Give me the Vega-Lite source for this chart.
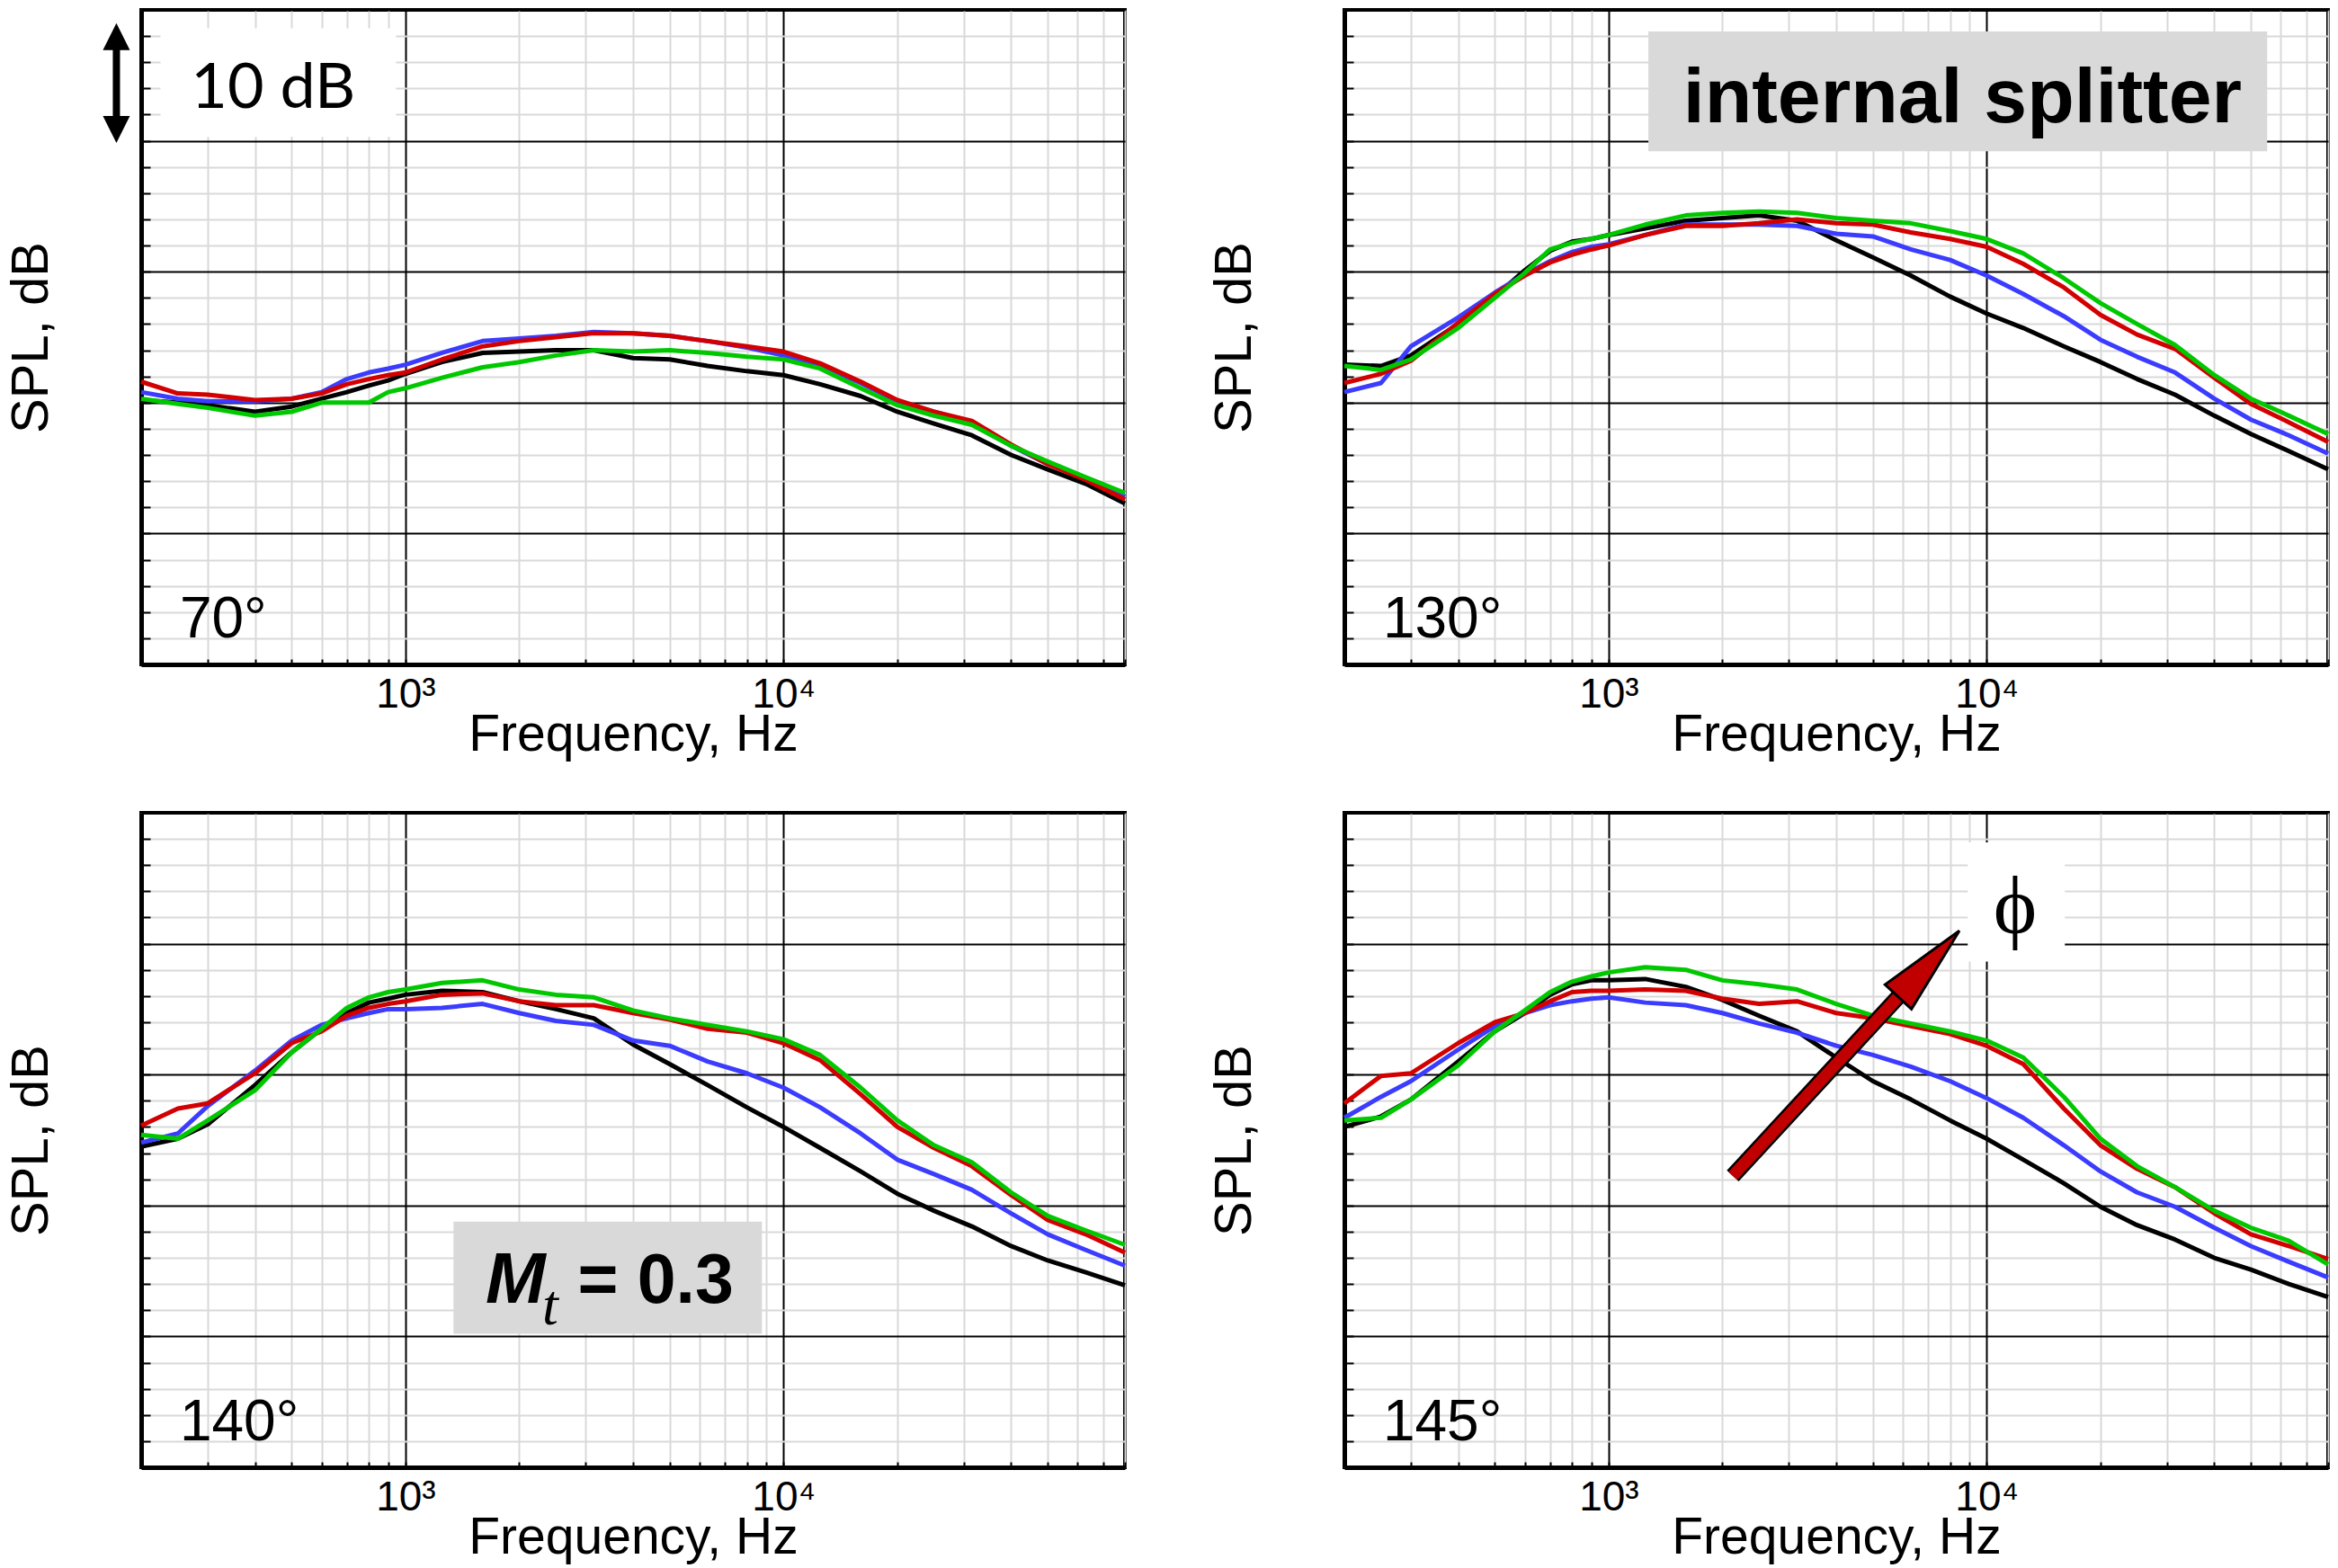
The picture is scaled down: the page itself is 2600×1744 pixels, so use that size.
{
  "$schema": "https://vega.github.io/schema/vega-lite/v6.json",
  "padding": {"left": 4, "top": 8, "right": 0, "bottom": 0},
  "columns": 2,
  "spacing": {"row": 54, "column": 86},
  "datasets": {
    "p70": [
      {"series":"phi1","freq":200,"spl":20.2},{"series":"phi1","freq":250,"spl":20.0},{"series":"phi1","freq":300,"spl":19.8},{"series":"phi1","freq":400,"spl":19.3},{"series":"phi1","freq":500,"spl":19.7},{"series":"phi1","freq":600,"spl":20.3},{"series":"phi1","freq":700,"spl":20.8},{"series":"phi1","freq":800,"spl":21.3},{"series":"phi1","freq":900,"spl":21.7},{"series":"phi1","freq":1000,"spl":22.2},{"series":"phi1","freq":1250,"spl":23.1},{"series":"phi1","freq":1600,"spl":23.8},{"series":"phi1","freq":2000,"spl":23.9},{"series":"phi1","freq":2500,"spl":24.0},{"series":"phi1","freq":3150,"spl":24.0},{"series":"phi1","freq":4000,"spl":23.4},{"series":"phi1","freq":5000,"spl":23.3},{"series":"phi1","freq":6300,"spl":22.8},{"series":"phi1","freq":8000,"spl":22.4},{"series":"phi1","freq":10000,"spl":22.1},{"series":"phi1","freq":12500,"spl":21.4},{"series":"phi1","freq":16000,"spl":20.5},{"series":"phi1","freq":20000,"spl":19.3},{"series":"phi1","freq":25000,"spl":18.4},{"series":"phi1","freq":31500,"spl":17.5},{"series":"phi1","freq":40000,"spl":16.0},{"series":"phi1","freq":50000,"spl":14.9},{"series":"phi1","freq":63000,"spl":13.8},{"series":"phi1","freq":80000,"spl":12.3},
      {"series":"phi2","freq":200,"spl":20.8},{"series":"phi2","freq":250,"spl":20.3},{"series":"phi2","freq":300,"spl":20.1},{"series":"phi2","freq":400,"spl":20.1},{"series":"phi2","freq":500,"spl":20.3},{"series":"phi2","freq":600,"spl":20.8},{"series":"phi2","freq":700,"spl":21.8},{"series":"phi2","freq":800,"spl":22.3},{"series":"phi2","freq":900,"spl":22.6},{"series":"phi2","freq":1000,"spl":22.9},{"series":"phi2","freq":1250,"spl":23.8},{"series":"phi2","freq":1600,"spl":24.7},{"series":"phi2","freq":2000,"spl":24.9},{"series":"phi2","freq":2500,"spl":25.1},{"series":"phi2","freq":3150,"spl":25.4},{"series":"phi2","freq":4000,"spl":25.3},{"series":"phi2","freq":5000,"spl":25.1},{"series":"phi2","freq":6300,"spl":24.7},{"series":"phi2","freq":8000,"spl":24.2},{"series":"phi2","freq":10000,"spl":23.6},{"series":"phi2","freq":12500,"spl":22.8},{"series":"phi2","freq":16000,"spl":21.5},{"series":"phi2","freq":20000,"spl":20.1},{"series":"phi2","freq":25000,"spl":19.3},{"series":"phi2","freq":31500,"spl":18.5},{"series":"phi2","freq":40000,"spl":16.7},{"series":"phi2","freq":50000,"spl":15.3},{"series":"phi2","freq":63000,"spl":14.2},{"series":"phi2","freq":80000,"spl":12.8},
      {"series":"phi3","freq":200,"spl":21.6},{"series":"phi3","freq":250,"spl":20.7},{"series":"phi3","freq":300,"spl":20.6},{"series":"phi3","freq":400,"spl":20.2},{"series":"phi3","freq":500,"spl":20.3},{"series":"phi3","freq":600,"spl":20.7},{"series":"phi3","freq":700,"spl":21.4},{"series":"phi3","freq":800,"spl":21.8},{"series":"phi3","freq":900,"spl":22.1},{"series":"phi3","freq":1000,"spl":22.3},{"series":"phi3","freq":1250,"spl":23.3},{"series":"phi3","freq":1600,"spl":24.3},{"series":"phi3","freq":2000,"spl":24.7},{"series":"phi3","freq":2500,"spl":25.0},{"series":"phi3","freq":3150,"spl":25.3},{"series":"phi3","freq":4000,"spl":25.3},{"series":"phi3","freq":5000,"spl":25.1},{"series":"phi3","freq":6300,"spl":24.7},{"series":"phi3","freq":8000,"spl":24.3},{"series":"phi3","freq":10000,"spl":23.9},{"series":"phi3","freq":12500,"spl":23.0},{"series":"phi3","freq":16000,"spl":21.6},{"series":"phi3","freq":20000,"spl":20.2},{"series":"phi3","freq":25000,"spl":19.3},{"series":"phi3","freq":31500,"spl":18.6},{"series":"phi3","freq":40000,"spl":16.8},{"series":"phi3","freq":50000,"spl":15.3},{"series":"phi3","freq":63000,"spl":14.1},{"series":"phi3","freq":80000,"spl":12.6},
      {"series":"phi4","freq":200,"spl":20.3},{"series":"phi4","freq":250,"spl":19.9},{"series":"phi4","freq":300,"spl":19.6},{"series":"phi4","freq":400,"spl":19.0},{"series":"phi4","freq":500,"spl":19.3},{"series":"phi4","freq":600,"spl":20.0},{"series":"phi4","freq":700,"spl":20.0},{"series":"phi4","freq":800,"spl":20.0},{"series":"phi4","freq":900,"spl":20.8},{"series":"phi4","freq":1000,"spl":21.1},{"series":"phi4","freq":1250,"spl":21.9},{"series":"phi4","freq":1600,"spl":22.7},{"series":"phi4","freq":2000,"spl":23.1},{"series":"phi4","freq":2500,"spl":23.6},{"series":"phi4","freq":3150,"spl":24.0},{"series":"phi4","freq":4000,"spl":23.9},{"series":"phi4","freq":5000,"spl":24.0},{"series":"phi4","freq":6300,"spl":23.8},{"series":"phi4","freq":8000,"spl":23.5},{"series":"phi4","freq":10000,"spl":23.3},{"series":"phi4","freq":12500,"spl":22.6},{"series":"phi4","freq":16000,"spl":21.1},{"series":"phi4","freq":20000,"spl":19.8},{"series":"phi4","freq":25000,"spl":19.0},{"series":"phi4","freq":31500,"spl":18.3},{"series":"phi4","freq":40000,"spl":16.7},{"series":"phi4","freq":50000,"spl":15.5},{"series":"phi4","freq":63000,"spl":14.3},{"series":"phi4","freq":80000,"spl":13.1}
    ],
    "p130": [
      {"series":"phi1","freq":200,"spl":22.9},{"series":"phi1","freq":250,"spl":22.8},{"series":"phi1","freq":300,"spl":23.6},{"series":"phi1","freq":400,"spl":26.0},{"series":"phi1","freq":500,"spl":28.1},{"series":"phi1","freq":600,"spl":30.1},{"series":"phi1","freq":700,"spl":31.6},{"series":"phi1","freq":800,"spl":32.3},{"series":"phi1","freq":900,"spl":32.5},{"series":"phi1","freq":1000,"spl":32.8},{"series":"phi1","freq":1250,"spl":33.3},{"series":"phi1","freq":1600,"spl":33.9},{"series":"phi1","freq":2000,"spl":34.1},{"series":"phi1","freq":2500,"spl":34.3},{"series":"phi1","freq":3150,"spl":33.9},{"series":"phi1","freq":4000,"spl":32.4},{"series":"phi1","freq":5000,"spl":31.1},{"series":"phi1","freq":6300,"spl":29.7},{"series":"phi1","freq":8000,"spl":28.1},{"series":"phi1","freq":10000,"spl":26.8},{"series":"phi1","freq":12500,"spl":25.7},{"series":"phi1","freq":16000,"spl":24.3},{"series":"phi1","freq":20000,"spl":23.1},{"series":"phi1","freq":25000,"spl":21.8},{"series":"phi1","freq":31500,"spl":20.6},{"series":"phi1","freq":40000,"spl":19.0},{"series":"phi1","freq":50000,"spl":17.6},{"series":"phi1","freq":63000,"spl":16.3},{"series":"phi1","freq":80000,"spl":14.9},
      {"series":"phi2","freq":200,"spl":20.8},{"series":"phi2","freq":250,"spl":21.5},{"series":"phi2","freq":300,"spl":24.3},{"series":"phi2","freq":400,"spl":26.5},{"series":"phi2","freq":500,"spl":28.4},{"series":"phi2","freq":600,"spl":29.8},{"series":"phi2","freq":700,"spl":30.8},{"series":"phi2","freq":800,"spl":31.5},{"series":"phi2","freq":900,"spl":31.9},{"series":"phi2","freq":1000,"spl":32.1},{"series":"phi2","freq":1250,"spl":32.8},{"series":"phi2","freq":1600,"spl":33.6},{"series":"phi2","freq":2000,"spl":33.6},{"series":"phi2","freq":2500,"spl":33.6},{"series":"phi2","freq":3150,"spl":33.5},{"series":"phi2","freq":4000,"spl":32.9},{"series":"phi2","freq":5000,"spl":32.7},{"series":"phi2","freq":6300,"spl":31.7},{"series":"phi2","freq":8000,"spl":30.9},{"series":"phi2","freq":10000,"spl":29.7},{"series":"phi2","freq":12500,"spl":28.3},{"series":"phi2","freq":16000,"spl":26.6},{"series":"phi2","freq":20000,"spl":24.8},{"series":"phi2","freq":25000,"spl":23.5},{"series":"phi2","freq":31500,"spl":22.3},{"series":"phi2","freq":40000,"spl":20.3},{"series":"phi2","freq":50000,"spl":18.7},{"series":"phi2","freq":63000,"spl":17.5},{"series":"phi2","freq":80000,"spl":16.1},
      {"series":"phi3","freq":200,"spl":21.5},{"series":"phi3","freq":250,"spl":22.2},{"series":"phi3","freq":300,"spl":23.2},{"series":"phi3","freq":400,"spl":26.1},{"series":"phi3","freq":500,"spl":28.3},{"series":"phi3","freq":600,"spl":29.7},{"series":"phi3","freq":700,"spl":30.7},{"series":"phi3","freq":800,"spl":31.3},{"series":"phi3","freq":900,"spl":31.7},{"series":"phi3","freq":1000,"spl":32.0},{"series":"phi3","freq":1250,"spl":32.8},{"series":"phi3","freq":1600,"spl":33.5},{"series":"phi3","freq":2000,"spl":33.5},{"series":"phi3","freq":2500,"spl":33.7},{"series":"phi3","freq":3150,"spl":34.0},{"series":"phi3","freq":4000,"spl":33.7},{"series":"phi3","freq":5000,"spl":33.6},{"series":"phi3","freq":6300,"spl":33.0},{"series":"phi3","freq":8000,"spl":32.5},{"series":"phi3","freq":10000,"spl":31.9},{"series":"phi3","freq":12500,"spl":30.6},{"series":"phi3","freq":16000,"spl":28.8},{"series":"phi3","freq":20000,"spl":26.7},{"series":"phi3","freq":25000,"spl":25.2},{"series":"phi3","freq":31500,"spl":24.1},{"series":"phi3","freq":40000,"spl":21.9},{"series":"phi3","freq":50000,"spl":19.9},{"series":"phi3","freq":63000,"spl":18.5},{"series":"phi3","freq":80000,"spl":17.0},
      {"series":"phi4","freq":200,"spl":22.8},{"series":"phi4","freq":250,"spl":22.5},{"series":"phi4","freq":300,"spl":23.3},{"series":"phi4","freq":400,"spl":25.7},{"series":"phi4","freq":500,"spl":28.0},{"series":"phi4","freq":600,"spl":29.9},{"series":"phi4","freq":700,"spl":31.7},{"series":"phi4","freq":800,"spl":32.2},{"series":"phi4","freq":900,"spl":32.5},{"series":"phi4","freq":1000,"spl":32.8},{"series":"phi4","freq":1250,"spl":33.6},{"series":"phi4","freq":1600,"spl":34.3},{"series":"phi4","freq":2000,"spl":34.5},{"series":"phi4","freq":2500,"spl":34.6},{"series":"phi4","freq":3150,"spl":34.5},{"series":"phi4","freq":4000,"spl":34.1},{"series":"phi4","freq":5000,"spl":33.9},{"series":"phi4","freq":6300,"spl":33.7},{"series":"phi4","freq":8000,"spl":33.1},{"series":"phi4","freq":10000,"spl":32.5},{"series":"phi4","freq":12500,"spl":31.4},{"series":"phi4","freq":16000,"spl":29.5},{"series":"phi4","freq":20000,"spl":27.6},{"series":"phi4","freq":25000,"spl":26.0},{"series":"phi4","freq":31500,"spl":24.4},{"series":"phi4","freq":40000,"spl":22.1},{"series":"phi4","freq":50000,"spl":20.3},{"series":"phi4","freq":63000,"spl":19.0},{"series":"phi4","freq":80000,"spl":17.6}
    ],
    "p140": [
      {"series":"phi1","freq":200,"spl":24.5},{"series":"phi1","freq":250,"spl":25.1},{"series":"phi1","freq":300,"spl":26.2},{"series":"phi1","freq":400,"spl":29.2},{"series":"phi1","freq":500,"spl":31.7},{"series":"phi1","freq":600,"spl":33.5},{"series":"phi1","freq":700,"spl":34.7},{"series":"phi1","freq":800,"spl":35.5},{"series":"phi1","freq":900,"spl":35.8},{"series":"phi1","freq":1000,"spl":36.1},{"series":"phi1","freq":1250,"spl":36.4},{"series":"phi1","freq":1600,"spl":36.3},{"series":"phi1","freq":2000,"spl":35.6},{"series":"phi1","freq":2500,"spl":35.0},{"series":"phi1","freq":3150,"spl":34.3},{"series":"phi1","freq":4000,"spl":32.3},{"series":"phi1","freq":5000,"spl":30.8},{"series":"phi1","freq":6300,"spl":29.2},{"series":"phi1","freq":8000,"spl":27.5},{"series":"phi1","freq":10000,"spl":26.0},{"series":"phi1","freq":12500,"spl":24.4},{"series":"phi1","freq":16000,"spl":22.6},{"series":"phi1","freq":20000,"spl":20.9},{"series":"phi1","freq":25000,"spl":19.6},{"series":"phi1","freq":31500,"spl":18.4},{"series":"phi1","freq":40000,"spl":16.9},{"series":"phi1","freq":50000,"spl":15.8},{"series":"phi1","freq":63000,"spl":14.9},{"series":"phi1","freq":80000,"spl":13.9},
      {"series":"phi2","freq":200,"spl":24.8},{"series":"phi2","freq":250,"spl":25.5},{"series":"phi2","freq":300,"spl":27.6},{"series":"phi2","freq":400,"spl":30.3},{"series":"phi2","freq":500,"spl":32.6},{"series":"phi2","freq":600,"spl":33.8},{"series":"phi2","freq":700,"spl":34.3},{"series":"phi2","freq":800,"spl":34.7},{"series":"phi2","freq":900,"spl":35.0},{"series":"phi2","freq":1000,"spl":35.0},{"series":"phi2","freq":1250,"spl":35.1},{"series":"phi2","freq":1600,"spl":35.4},{"series":"phi2","freq":2000,"spl":34.7},{"series":"phi2","freq":2500,"spl":34.1},{"series":"phi2","freq":3150,"spl":33.8},{"series":"phi2","freq":4000,"spl":32.6},{"series":"phi2","freq":5000,"spl":32.2},{"series":"phi2","freq":6300,"spl":31.0},{"series":"phi2","freq":8000,"spl":30.1},{"series":"phi2","freq":10000,"spl":29.0},{"series":"phi2","freq":12500,"spl":27.5},{"series":"phi2","freq":16000,"spl":25.5},{"series":"phi2","freq":20000,"spl":23.5},{"series":"phi2","freq":25000,"spl":22.4},{"series":"phi2","freq":31500,"spl":21.2},{"series":"phi2","freq":40000,"spl":19.4},{"series":"phi2","freq":50000,"spl":17.8},{"series":"phi2","freq":63000,"spl":16.6},{"series":"phi2","freq":80000,"spl":15.4},
      {"series":"phi3","freq":200,"spl":26.1},{"series":"phi3","freq":250,"spl":27.4},{"series":"phi3","freq":300,"spl":27.8},{"series":"phi3","freq":400,"spl":30.1},{"series":"phi3","freq":500,"spl":32.4},{"series":"phi3","freq":600,"spl":33.3},{"series":"phi3","freq":700,"spl":34.5},{"series":"phi3","freq":800,"spl":35.1},{"series":"phi3","freq":900,"spl":35.4},{"series":"phi3","freq":1000,"spl":35.6},{"series":"phi3","freq":1250,"spl":36.1},{"series":"phi3","freq":1600,"spl":36.2},{"series":"phi3","freq":2000,"spl":35.6},{"series":"phi3","freq":2500,"spl":35.3},{"series":"phi3","freq":3150,"spl":35.3},{"series":"phi3","freq":4000,"spl":34.7},{"series":"phi3","freq":5000,"spl":34.2},{"series":"phi3","freq":6300,"spl":33.5},{"series":"phi3","freq":8000,"spl":33.2},{"series":"phi3","freq":10000,"spl":32.4},{"series":"phi3","freq":12500,"spl":31.1},{"series":"phi3","freq":16000,"spl":28.5},{"series":"phi3","freq":20000,"spl":26.0},{"series":"phi3","freq":25000,"spl":24.4},{"series":"phi3","freq":31500,"spl":23.0},{"series":"phi3","freq":40000,"spl":20.8},{"series":"phi3","freq":50000,"spl":18.9},{"series":"phi3","freq":63000,"spl":17.8},{"series":"phi3","freq":80000,"spl":16.4},
      {"series":"phi4","freq":200,"spl":25.4},{"series":"phi4","freq":250,"spl":25.1},{"series":"phi4","freq":300,"spl":26.5},{"series":"phi4","freq":400,"spl":28.8},{"series":"phi4","freq":500,"spl":31.7},{"series":"phi4","freq":600,"spl":33.5},{"series":"phi4","freq":700,"spl":35.1},{"series":"phi4","freq":800,"spl":35.9},{"series":"phi4","freq":900,"spl":36.3},{"series":"phi4","freq":1000,"spl":36.5},{"series":"phi4","freq":1250,"spl":37.0},{"series":"phi4","freq":1600,"spl":37.2},{"series":"phi4","freq":2000,"spl":36.5},{"series":"phi4","freq":2500,"spl":36.1},{"series":"phi4","freq":3150,"spl":35.9},{"series":"phi4","freq":4000,"spl":34.9},{"series":"phi4","freq":5000,"spl":34.3},{"series":"phi4","freq":6300,"spl":33.8},{"series":"phi4","freq":8000,"spl":33.3},{"series":"phi4","freq":10000,"spl":32.7},{"series":"phi4","freq":12500,"spl":31.5},{"series":"phi4","freq":16000,"spl":29.0},{"series":"phi4","freq":20000,"spl":26.5},{"series":"phi4","freq":25000,"spl":24.6},{"series":"phi4","freq":31500,"spl":23.3},{"series":"phi4","freq":40000,"spl":21.0},{"series":"phi4","freq":50000,"spl":19.2},{"series":"phi4","freq":63000,"spl":18.1},{"series":"phi4","freq":80000,"spl":17.0}
    ],
    "p145": [
      {"series":"phi1","freq":200,"spl":26.0},{"series":"phi1","freq":250,"spl":26.8},{"series":"phi1","freq":300,"spl":28.1},{"series":"phi1","freq":400,"spl":31.0},{"series":"phi1","freq":500,"spl":33.3},{"series":"phi1","freq":600,"spl":34.7},{"series":"phi1","freq":700,"spl":36.1},{"series":"phi1","freq":800,"spl":36.9},{"series":"phi1","freq":900,"spl":37.2},{"series":"phi1","freq":1000,"spl":37.2},{"series":"phi1","freq":1250,"spl":37.3},{"series":"phi1","freq":1600,"spl":36.7},{"series":"phi1","freq":2000,"spl":35.7},{"series":"phi1","freq":2500,"spl":34.5},{"series":"phi1","freq":3150,"spl":33.3},{"series":"phi1","freq":4000,"spl":31.3},{"series":"phi1","freq":5000,"spl":29.5},{"series":"phi1","freq":6300,"spl":28.1},{"series":"phi1","freq":8000,"spl":26.5},{"series":"phi1","freq":10000,"spl":25.1},{"series":"phi1","freq":12500,"spl":23.5},{"series":"phi1","freq":16000,"spl":21.7},{"series":"phi1","freq":20000,"spl":19.9},{"series":"phi1","freq":25000,"spl":18.5},{"series":"phi1","freq":31500,"spl":17.4},{"series":"phi1","freq":40000,"spl":16.0},{"series":"phi1","freq":50000,"spl":15.1},{"series":"phi1","freq":63000,"spl":14.0},{"series":"phi1","freq":80000,"spl":13.0},
      {"series":"phi2","freq":200,"spl":26.7},{"series":"phi2","freq":250,"spl":28.3},{"series":"phi2","freq":300,"spl":29.5},{"series":"phi2","freq":400,"spl":31.9},{"series":"phi2","freq":500,"spl":33.7},{"series":"phi2","freq":600,"spl":34.7},{"series":"phi2","freq":700,"spl":35.3},{"series":"phi2","freq":800,"spl":35.6},{"series":"phi2","freq":900,"spl":35.8},{"series":"phi2","freq":1000,"spl":35.9},{"series":"phi2","freq":1250,"spl":35.5},{"series":"phi2","freq":1600,"spl":35.3},{"series":"phi2","freq":2000,"spl":34.7},{"series":"phi2","freq":2500,"spl":33.9},{"series":"phi2","freq":3150,"spl":33.2},{"series":"phi2","freq":4000,"spl":32.2},{"series":"phi2","freq":5000,"spl":31.5},{"series":"phi2","freq":6300,"spl":30.6},{"series":"phi2","freq":8000,"spl":29.5},{"series":"phi2","freq":10000,"spl":28.2},{"series":"phi2","freq":12500,"spl":26.7},{"series":"phi2","freq":16000,"spl":24.6},{"series":"phi2","freq":20000,"spl":22.6},{"series":"phi2","freq":25000,"spl":21.0},{"series":"phi2","freq":31500,"spl":19.9},{"series":"phi2","freq":40000,"spl":18.3},{"series":"phi2","freq":50000,"spl":16.9},{"series":"phi2","freq":63000,"spl":15.7},{"series":"phi2","freq":80000,"spl":14.5},
      {"series":"phi3","freq":200,"spl":27.8},{"series":"phi3","freq":250,"spl":29.9},{"series":"phi3","freq":300,"spl":30.1},{"series":"phi3","freq":400,"spl":32.4},{"series":"phi3","freq":500,"spl":34.0},{"series":"phi3","freq":600,"spl":34.7},{"series":"phi3","freq":700,"spl":35.6},{"series":"phi3","freq":800,"spl":36.3},{"series":"phi3","freq":900,"spl":36.4},{"series":"phi3","freq":1000,"spl":36.4},{"series":"phi3","freq":1250,"spl":36.5},{"series":"phi3","freq":1600,"spl":36.4},{"series":"phi3","freq":2000,"spl":35.8},{"series":"phi3","freq":2500,"spl":35.4},{"series":"phi3","freq":3150,"spl":35.6},{"series":"phi3","freq":4000,"spl":34.7},{"series":"phi3","freq":5000,"spl":34.3},{"series":"phi3","freq":6300,"spl":33.7},{"series":"phi3","freq":8000,"spl":33.1},{"series":"phi3","freq":10000,"spl":32.2},{"series":"phi3","freq":12500,"spl":30.8},{"series":"phi3","freq":16000,"spl":27.4},{"series":"phi3","freq":20000,"spl":24.6},{"series":"phi3","freq":25000,"spl":22.8},{"series":"phi3","freq":31500,"spl":21.4},{"series":"phi3","freq":40000,"spl":19.4},{"series":"phi3","freq":50000,"spl":17.8},{"series":"phi3","freq":63000,"spl":16.9},{"series":"phi3","freq":80000,"spl":15.9},
      {"series":"phi4","freq":200,"spl":26.5},{"series":"phi4","freq":250,"spl":26.7},{"series":"phi4","freq":300,"spl":28.1},{"series":"phi4","freq":400,"spl":30.7},{"series":"phi4","freq":500,"spl":33.3},{"series":"phi4","freq":600,"spl":34.9},{"series":"phi4","freq":700,"spl":36.3},{"series":"phi4","freq":800,"spl":37.1},{"series":"phi4","freq":900,"spl":37.5},{"series":"phi4","freq":1000,"spl":37.8},{"series":"phi4","freq":1250,"spl":38.2},{"series":"phi4","freq":1600,"spl":38.0},{"series":"phi4","freq":2000,"spl":37.2},{"series":"phi4","freq":2500,"spl":36.9},{"series":"phi4","freq":3150,"spl":36.5},{"series":"phi4","freq":4000,"spl":35.4},{"series":"phi4","freq":5000,"spl":34.5},{"series":"phi4","freq":6300,"spl":33.9},{"series":"phi4","freq":8000,"spl":33.3},{"series":"phi4","freq":10000,"spl":32.6},{"series":"phi4","freq":12500,"spl":31.3},{"series":"phi4","freq":16000,"spl":28.3},{"series":"phi4","freq":20000,"spl":25.1},{"series":"phi4","freq":25000,"spl":23.0},{"series":"phi4","freq":31500,"spl":21.4},{"series":"phi4","freq":40000,"spl":19.6},{"series":"phi4","freq":50000,"spl":18.3},{"series":"phi4","freq":63000,"spl":17.3},{"series":"phi4","freq":80000,"spl":15.5}
    ]
  },
  "concat": [
    {
      "width": 1094,
      "height": 728,
      "encoding": {
        "x": {"field": "freq", "type": "quantitative", "scale": {"type": "log", "domain": [200, 80000], "nice": false},
          "axis": {"title": "Frequency, Hz", "values": [200,300,400,500,600,700,800,900,1000,2000,3000,4000,5000,6000,7000,8000,9000,10000,20000,30000,40000,50000,60000,70000,80000],
            "labelExpr": "datum.value == 1000 ? '10³' : datum.value == 10000 ? '10⁴' : ''", "labelFontSize": 46, "titleFontSize": 57, "labelPadding": 17, "titlePadding": -6,
            "gridColor": {"condition": {"test": "datum.value == 1000 || datum.value == 10000", "value": "black"}, "value": "#d9d9d9"}}},
        "y": {"field": "spl", "type": "quantitative", "scale": {"domain": [0, 50], "nice": false, "zero": false},
          "axis": {"title": "SPL, dB", "values": [0,2,4,6,8,10,12,14,16,18,20,22,24,26,28,30,32,34,36,38,40,42,44,46,48,50],
            "gridColor": {"condition": {"test": "datum.value % 10 == 0", "value": "black"}, "value": "#d9d9d9"}}}
      },
      "layer": [
        {
          "data": {"values": [{"freq": 225, "freq2": 944, "spl": 40.3, "spl2": 48.6}]},
          "mark": {"type": "rect", "color": "white"},
          "encoding": {"x2": {"field": "freq2"}, "y2": {"field": "spl2"}}
        },
        {
          "data": {"name": "p70"},
          "mark": {"type": "line", "strokeWidth": 5, "strokeJoin": "round"},
          "encoding": {"color": {"field": "series", "type": "nominal", "legend": null,
            "scale": {"domain": ["phi1", "phi2", "phi3", "phi4"], "range": ["black", "#3c3cff", "#d20000", "#00c800"]}}}
        },
        {
          "data": {"values": [{"freq": 447, "spl": 42.5, "label": "10 dB"}]},
          "mark": {"type": "text", "font": "Lato", "fontSize": 70, "align": "center", "baseline": "alphabetic", "color": "black"},
          "encoding": {"text": {"field": "label"}}
        },
        {
          "data": {"values": [{"freq": 172, "spl": 47.9, "spl2": 40.9}]},
          "mark": {"type": "rule", "strokeWidth": 8, "color": "black"},
          "encoding": {"y2": {"field": "spl2"}}
        },
        {
          "data": {"values": [{"freq": 172, "spl": 47.95}]},
          "mark": {"type": "point", "shape": "M0,-1L1,1L-1,1Z", "filled": true, "size": 900, "color": "black", "opacity": 1},
          "encoding": {}
        },
        {
          "data": {"values": [{"freq": 172, "spl": 40.86}]},
          "mark": {"type": "point", "shape": "M0,1L1,-1L-1,-1Z", "filled": true, "size": 900, "color": "black", "opacity": 1},
          "encoding": {}
        },
        {
          "data": {"values": [{"freq": 253, "spl": 2.05, "label": "70°"}]},
          "mark": {"type": "text", "fontSize": 64, "align": "left", "baseline": "alphabetic", "color": "black"},
          "encoding": {"text": {"field": "label"}}
        }
      ]
    },
    {
      "width": 1094,
      "height": 728,
      "encoding": {
        "x": {"field": "freq", "type": "quantitative", "scale": {"type": "log", "domain": [200, 80000], "nice": false},
          "axis": {"title": "Frequency, Hz", "values": [200,300,400,500,600,700,800,900,1000,2000,3000,4000,5000,6000,7000,8000,9000,10000,20000,30000,40000,50000,60000,70000,80000],
            "labelExpr": "datum.value == 1000 ? '10³' : datum.value == 10000 ? '10⁴' : ''", "labelFontSize": 46, "titleFontSize": 57, "labelPadding": 17, "titlePadding": -6,
            "gridColor": {"condition": {"test": "datum.value == 1000 || datum.value == 10000", "value": "black"}, "value": "#d9d9d9"}}},
        "y": {"field": "spl", "type": "quantitative", "scale": {"domain": [0, 50], "nice": false, "zero": false},
          "axis": {"title": "SPL, dB", "values": [0,2,4,6,8,10,12,14,16,18,20,22,24,26,28,30,32,34,36,38,40,42,44,46,48,50],
            "gridColor": {"condition": {"test": "datum.value % 10 == 0", "value": "black"}, "value": "#d9d9d9"}}}
      },
      "layer": [
        {
          "data": {"values": [{"freq": 1274, "freq2": 55200, "spl": 39.2, "spl2": 48.36}]},
          "mark": {"type": "rect", "color": "#d9d9d9"},
          "encoding": {"x2": {"field": "freq2"}, "y2": {"field": "spl2"}}
        },
        {
          "data": {"name": "p130"},
          "mark": {"type": "line", "strokeWidth": 5, "strokeJoin": "round"},
          "encoding": {"color": {"field": "series", "type": "nominal", "legend": null,
            "scale": {"domain": ["phi1", "phi2", "phi3", "phi4"], "range": ["black", "#3c3cff", "#d20000", "#00c800"]}}}
        },
        {
          "data": {"values": [{"freq": 8630, "spl": 41.44, "label": "internal splitter"}]},
          "mark": {"type": "text", "fontSize": 86, "fontWeight": "bold", "align": "center", "baseline": "alphabetic", "color": "black"},
          "encoding": {"text": {"field": "label"}}
        },
        {
          "data": {"values": [{"freq": 253, "spl": 2.05, "label": "130°"}]},
          "mark": {"type": "text", "fontSize": 64, "align": "left", "baseline": "alphabetic", "color": "black"},
          "encoding": {"text": {"field": "label"}}
        }
      ]
    },
    {
      "width": 1094,
      "height": 728,
      "encoding": {
        "x": {"field": "freq", "type": "quantitative", "scale": {"type": "log", "domain": [200, 80000], "nice": false},
          "axis": {"title": "Frequency, Hz", "values": [200,300,400,500,600,700,800,900,1000,2000,3000,4000,5000,6000,7000,8000,9000,10000,20000,30000,40000,50000,60000,70000,80000],
            "labelExpr": "datum.value == 1000 ? '10³' : datum.value == 10000 ? '10⁴' : ''", "labelFontSize": 46, "titleFontSize": 57, "labelPadding": 17, "titlePadding": -6,
            "gridColor": {"condition": {"test": "datum.value == 1000 || datum.value == 10000", "value": "black"}, "value": "#d9d9d9"}}},
        "y": {"field": "spl", "type": "quantitative", "scale": {"domain": [0, 50], "nice": false, "zero": false},
          "axis": {"title": "SPL, dB", "values": [0,2,4,6,8,10,12,14,16,18,20,22,24,26,28,30,32,34,36,38,40,42,44,46,48,50],
            "gridColor": {"condition": {"test": "datum.value % 10 == 0", "value": "black"}, "value": "#d9d9d9"}}}
      },
      "layer": [
        {
          "data": {"values": [{"freq": 1340, "freq2": 8770, "spl": 10.2, "spl2": 18.77}]},
          "mark": {"type": "rect", "color": "#d9d9d9"},
          "encoding": {"x2": {"field": "freq2"}, "y2": {"field": "spl2"}}
        },
        {
          "data": {"name": "p140"},
          "mark": {"type": "line", "strokeWidth": 5, "strokeJoin": "round"},
          "encoding": {"color": {"field": "series", "type": "nominal", "legend": null,
            "scale": {"domain": ["phi1", "phi2", "phi3", "phi4"], "range": ["black", "#3c3cff", "#d20000", "#00c800"]}}}
        },
        {
          "data": {"values": [{"freq": 1629, "spl": 12.6, "label": "M"}]},
          "mark": {"type": "text", "fontSize": 80, "fontWeight": "bold", "fontStyle": "italic", "align": "left", "baseline": "alphabetic", "color": "black"},
          "encoding": {"text": {"field": "label"}}
        },
        {
          "data": {"values": [{"freq": 2300, "spl": 10.9, "label": "t"}]},
          "mark": {"type": "text", "font": "Liberation Serif", "fontSize": 64, "fontStyle": "italic", "align": "left", "baseline": "alphabetic", "color": "black"},
          "encoding": {"text": {"field": "label"}}
        },
        {
          "data": {"values": [{"freq": 2855, "spl": 12.6, "label": "= 0.3"}]},
          "mark": {"type": "text", "fontSize": 77, "fontWeight": "bold", "align": "left", "baseline": "alphabetic", "color": "black"},
          "encoding": {"text": {"field": "label"}}
        },
        {
          "data": {"values": [{"freq": 253, "spl": 2.05, "label": "140°"}]},
          "mark": {"type": "text", "fontSize": 64, "align": "left", "baseline": "alphabetic", "color": "black"},
          "encoding": {"text": {"field": "label"}}
        }
      ]
    },
    {
      "width": 1094,
      "height": 728,
      "encoding": {
        "x": {"field": "freq", "type": "quantitative", "scale": {"type": "log", "domain": [200, 80000], "nice": false},
          "axis": {"title": "Frequency, Hz", "values": [200,300,400,500,600,700,800,900,1000,2000,3000,4000,5000,6000,7000,8000,9000,10000,20000,30000,40000,50000,60000,70000,80000],
            "labelExpr": "datum.value == 1000 ? '10³' : datum.value == 10000 ? '10⁴' : ''", "labelFontSize": 46, "titleFontSize": 57, "labelPadding": 17, "titlePadding": -6,
            "gridColor": {"condition": {"test": "datum.value == 1000 || datum.value == 10000", "value": "black"}, "value": "#d9d9d9"}}},
        "y": {"field": "spl", "type": "quantitative", "scale": {"domain": [0, 50], "nice": false, "zero": false},
          "axis": {"title": "SPL, dB", "values": [0,2,4,6,8,10,12,14,16,18,20,22,24,26,28,30,32,34,36,38,40,42,44,46,48,50],
            "gridColor": {"condition": {"test": "datum.value % 10 == 0", "value": "black"}, "value": "#d9d9d9"}}}
      },
      "layer": [
        {
          "data": {"values": [{"freq": 8910, "freq2": 16100, "spl": 38.63, "spl2": 47.74}]},
          "mark": {"type": "rect", "color": "white"},
          "encoding": {"x2": {"field": "freq2"}, "y2": {"field": "spl2"}}
        },
        {
          "data": {"name": "p145"},
          "mark": {"type": "line", "strokeWidth": 5, "strokeJoin": "round"},
          "encoding": {"color": {"field": "series", "type": "nominal", "legend": null,
            "scale": {"domain": ["phi1", "phi2", "phi3", "phi4"], "range": ["black", "#3c3cff", "#d20000", "#00c800"]}}}
        },
        {
          "data": {"values": [{"freq": 2130, "spl": 22.26, "freq2": 6300, "spl2": 36.97}]},
          "mark": {"type": "rule", "strokeWidth": 18, "color": "black"},
          "encoding": {"x2": {"field": "freq2"}, "y2": {"field": "spl2"}}
        },
        {
          "data": {"values": [{"freq": 2130, "spl": 22.26, "freq2": 6300, "spl2": 36.97}]},
          "mark": {"type": "rule", "strokeWidth": 13, "color": "#c00000"},
          "encoding": {"x2": {"field": "freq2"}, "y2": {"field": "spl2"}}
        },
        {
          "data": {"values": [{"freq": 7030, "spl": 38.46}]},
          "mark": {"type": "point", "shape": "M0,-1L0.4,1L-0.4,1Z", "filled": true, "size": 10000, "angle": 42.8, "fill": "#c00000", "stroke": "black", "strokeWidth": 3, "opacity": 1},
          "encoding": {}
        },
        {
          "data": {"values": [{"freq": 11900, "spl": 40.8, "label": "ϕ"}]},
          "mark": {"type": "text", "font": "Liberation Serif", "fontSize": 92, "align": "center", "baseline": "alphabetic", "color": "black"},
          "encoding": {"text": {"field": "label"}}
        },
        {
          "data": {"values": [{"freq": 253, "spl": 2.05, "label": "145°"}]},
          "mark": {"type": "text", "fontSize": 64, "align": "left", "baseline": "alphabetic", "color": "black"},
          "encoding": {"text": {"field": "label"}}
        }
      ]
    }
  ],
  "config": {
    "font": "Liberation Sans",
    "view": {"stroke": "black", "strokeWidth": 4},
    "axis": {"labelColor": "black", "titleColor": "black", "titleFontWeight": "normal", "domainColor": "black", "domainWidth": 5,
      "tickColor": "black", "tickWidth": 2, "labelFont": "Liberation Sans", "titleFont": "Liberation Sans", "gridWidth": 2, "gridOpacity": 1},
    "axisX": {"tickSize": -6, "labelOverlap": false, "labelFlush": false},
    "axisY": {"titleFontSize": 58, "titlePadding": 92, "tickSize": -10, "labels": false}
  }
}
